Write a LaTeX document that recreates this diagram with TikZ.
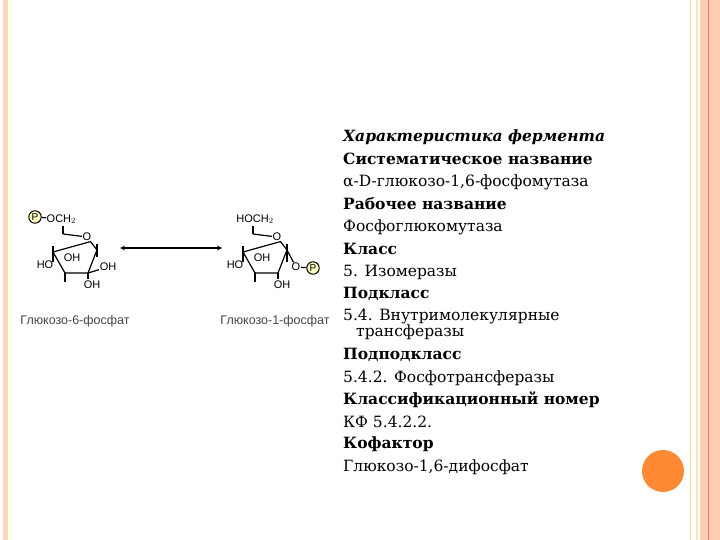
\documentclass[tikz,border=0pt]{standalone}
\usepackage{fontspec}
\setmainfont{DejaVu Serif}
\newfontfamily\labfont{Liberation Sans}
\begin{document}
\begin{tikzpicture}[x=1pt,y=-1pt,
  txt/.style={anchor=west,inner sep=0,font=\fontsize{15.5}{16}\selectfont},
  atom/.style={inner sep=0.5,font=\labfont\fontsize{11}{12}\selectfont},
  bond/.style={line width=1.2pt},
  pcirc/.style={circle,draw,line width=1pt,inner sep=1,fill=yellow!25,font=\labfont\fontsize{10}{11}\selectfont},
  capt/.style={font=\labfont\fontsize{12.5}{13}\selectfont,text=black!72}]
\useasboundingbox (0,0) rectangle (720,540);
% borders
\fill[red!30!orange!25] (3,0) rectangle (8,540);
\draw[yellow!30,line width=0.6pt] (10.5,0) -- (10.5,540);
\draw[orange!35,line width=0.8pt] (690.5,0) -- (690.5,540);
\fill[orange!25] (696,0) rectangle (698,540);
\fill[red!30!orange!30] (700,0) rectangle (720,540);
\draw[red!50!orange!70,line width=0.6pt] (708,0) -- (708,540);
\node[circle,fill=orange!85!red!80,minimum size=42pt,inner sep=0] (dot) at (663,471) {};
% left molecule
\begin{scope}
\coordinate (a5) at (63,234); \node[atom] (aO) at (87,237) {O};
\coordinate (a1) at (97,250); \coordinate (a2) at (88,273);
\coordinate (a3) at (65,273); \coordinate (a4) at (53,252);
\draw[bond] (a5) -- (aO) -- (a1) -- (a2) -- (a3) -- (a4) -- cycle;
\node[pcirc] (aP) at (35,217) {P};
\node[atom,anchor=west] (aC) at (46,219) {OCH$_2$};
\draw[bond] (aP) -- (aC);
\draw[bond] (a5) -- (63,226);
\draw[bond] (a4) -- (53,246); \draw[bond] (a4) -- (53,262);
\node[atom] (aHO) at (45,265) {HO};
\node[atom] (aOH3) at (72,258) {OH};
\draw[bond] (a3) -- (65,282);
\draw[bond] (a1) -- (97,244); \draw[bond] (a1) -- (97,257);
\node[atom] (aOH1) at (108,267) {OH};
\draw[bond] (a2) -- (aOH1);
\draw[bond] (a2) -- (88,279);
\node[atom] (aOH2) at (92,285) {OH};
\node[capt] (l1) at (75,321) {Глюкозо-6-фосфат};
\end{scope}
% right molecule
\begin{scope}
\coordinate (b5) at (253,234); \node[atom] (bO) at (277,237) {O};
\coordinate (b1) at (287,250); \coordinate (b2) at (278,273);
\coordinate (b3) at (255,273); \coordinate (b4) at (243,252);
\draw[bond] (b5) -- (bO) -- (b1) -- (b2) -- (b3) -- (b4) -- cycle;
\node[atom] (bC) at (255,219) {HOCH$_2$};
\draw[bond] (b5) -- (253,226);
\draw[bond] (b4) -- (243,246); \draw[bond] (b4) -- (243,262);
\node[atom] (bHO) at (235,265) {HO};
\node[atom] (bOH3) at (262,258) {OH};
\draw[bond] (b3) -- (255,282);
\draw[bond] (b1) -- (287,244); \draw[bond] (b1) -- (287,262);
\node[atom] (bO1) at (296,267) {O};
\node[pcirc] (bP) at (313,268) {P};
\draw[bond] (b1) -- (bO1); \draw[bond] (bO1) -- (bP);
\draw[bond] (b2) -- (278,279);
\node[atom] (bOH2) at (282,285) {OH};
\node[capt] (l2) at (275,321) {Глюкозо-1-фосфат};
\end{scope}
\coordinate (ar1) at (120,248); \coordinate (ar2) at (222,248);
\draw[line width=1.2pt,<->,>=stealth] (ar1) -- (ar2);
% text
\node[txt] (t1) at (343,137) {\bfseries\itshape Характеристика фермента};
\node[txt] (t2) at (343,159) {\bfseries Систематическое название};
\node[txt] (t3) at (343,182) {α-D-глюкозо-1,6-фосфомутаза};
\node[txt] (t4) at (343,204) {\bfseries Рабочее название};
\node[txt] (t5) at (343,227) {Фосфоглюкомутаза};
\node[txt] (t6) at (343,249) {\bfseries Класс};
\node[txt] (t7) at (343,272) {5. Изомеразы};
\node[txt] (t8) at (343,294) {\bfseries Подкласс};
\node[txt] (t9) at (343,316) {5.4. Внутримолекулярные};
\node[txt] (t10) at (356,332) {трансферазы};
\node[txt] (t11) at (343,355) {\bfseries Подподкласс};
\node[txt] (t12) at (343,378) {5.4.2. Фосфотрансферазы};
\node[txt] (t13) at (343,400) {\bfseries Классификационный номер};
\node[txt] (t14) at (343,422) {КФ 5.4.2.2.};
\node[txt] (t15) at (343,444) {\bfseries Кофактор};
\node[txt] (t16) at (343,467) {Глюкозо-1,6-дифосфат};
\end{tikzpicture}
\end{document}
